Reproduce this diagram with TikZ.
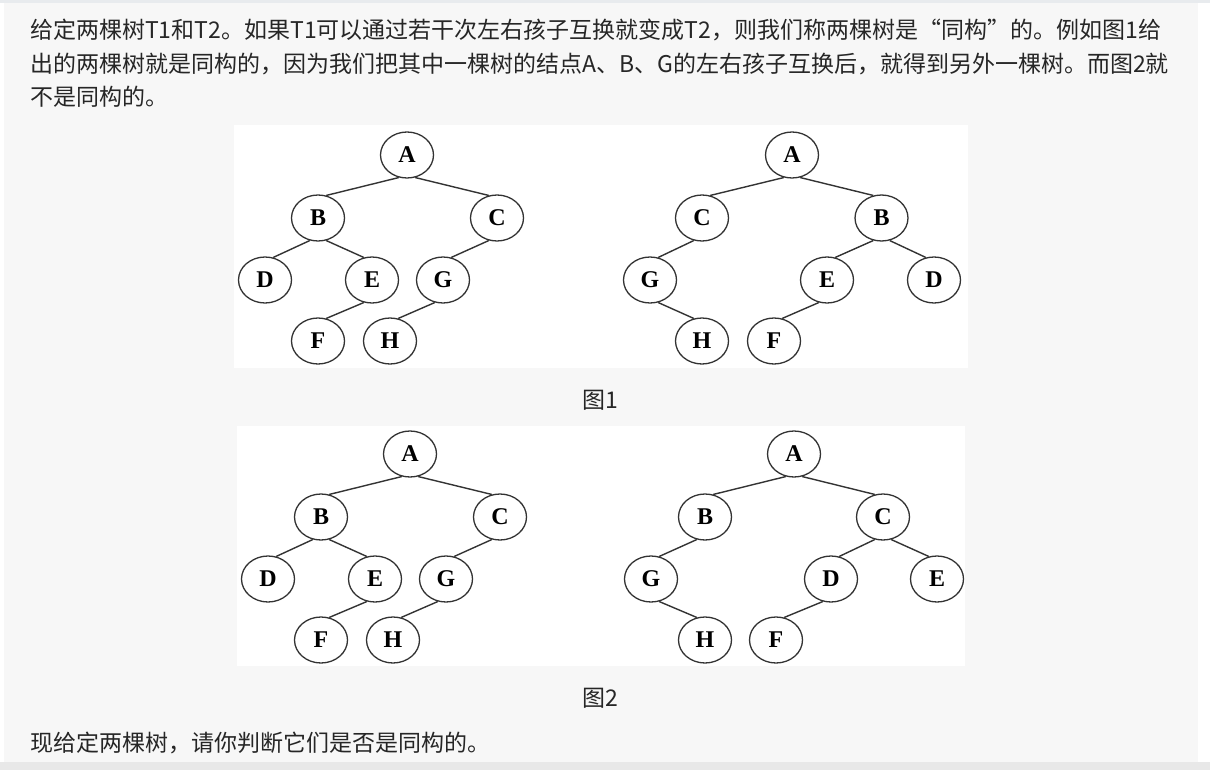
\documentclass[tikz,border=0pt]{standalone}
\usepackage{fontspec}
\setmainfont{Liberation Serif}
\newfontfamily\cjkfont{Noto Sans CJK SC}
\usetikzlibrary{shapes.geometric,positioning}
\definecolor{pagegray}{HTML}{F7F7F7}
\definecolor{topband}{HTML}{E8EBEE}
\definecolor{botband}{HTML}{E8E8E8}
\definecolor{inkgray}{HTML}{333333}

\begin{document}
\begin{tikzpicture}[x=1pt, y=-1pt,
  txt/.style={font=\cjkfont\fontsize{23}{28}\selectfont, text=black!85, inner sep=0pt},
  para/.style={txt, anchor=base west},
  figcap/.style={txt, anchor=base},
  tnode/.style={draw=inkgray, line width=1.3pt, ellipse, minimum width=53pt, minimum height=46pt, inner sep=0pt, font=\bfseries\fontsize{24}{24}\selectfont},
  link/.style={draw=inkgray, line width=1.4pt}]
% page and panels
\path[use as bounding box, fill=white] (0,0) rectangle (1210,770);
\fill[pagegray] (4,3) rectangle (1198,762);
\fill[topband] (0,0) rectangle (1210,3);
\fill[botband] (0,762) rectangle (1210,770);
\fill[white] (234,125) rectangle (968,368);
\fill[white] (237,426) rectangle (965,666);
% text
\node[para] (line1) at (30,39) {给定两棵树T1和T2。如果T1可以通过若干次左右孩子互换就变成T2，则我们称两棵树是“同构”的。例如图1给};
\node[para] (line2) at (30,73) {出的两棵树就是同构的，因为我们把其中一棵树的结点A、B、G的左右孩子互换后，就得到另外一棵树。而图2就};
\node[para] (line3) at (30,106) {不是同构的。};
\node[figcap] (cap1) at (600,408) {图1};
\node[figcap] (cap2) at (600,706) {图2};
\node[para] (ask) at (30,751) {现给定两棵树，请你判断它们是否是同构的。};
% figure 1, left tree
\node[tnode] (A1) at (407,155) {A};
\node[tnode] (B1) at (318,218) {B};
\node[tnode] (C1) at (497,218) {C};
\node[tnode] (D1) at (265,280) {D};
\node[tnode] (E1) at (372,280) {E};
\node[tnode] (G1) at (443,280) {G};
\node[tnode] (F1) at (318,341) {F};
\node[tnode] (H1) at (390,341) {H};
\draw[link] (A1.-110) -- (B1.70); \draw[link] (A1.-70) -- (C1.110);
\draw[link] (B1.-110) -- (D1.70); \draw[link] (B1.-70) -- (E1.110);
\draw[link] (C1.-110) -- (G1.70);
\draw[link] (E1.-110) -- (F1.70); \draw[link] (G1.-110) -- (H1.70);
% figure 1, right tree
\node[tnode] (A2) at (792,155) {A};
\node[tnode] (C2) at (702,218) {C};
\node[tnode] (B2) at (881.5,218) {B};
\node[tnode] (G2) at (650,280) {G};
\node[tnode] (E2) at (827,280) {E};
\node[tnode] (D2) at (934,280) {D};
\node[tnode] (H2) at (702,341) {H};
\node[tnode] (F2) at (774,341) {F};
\draw[link] (A2.-110) -- (C2.70); \draw[link] (A2.-70) -- (B2.110);
\draw[link] (C2.-110) -- (G2.70); \draw[link] (G2.-70) -- (H2.110);
\draw[link] (B2.-110) -- (E2.70); \draw[link] (B2.-70) -- (D2.110);
\draw[link] (E2.-110) -- (F2.70);
% figure 2, left tree
\node[tnode] (A3) at (410,454) {A};
\node[tnode] (B3) at (321,517) {B};
\node[tnode] (C3) at (500,517) {C};
\node[tnode] (D3) at (268,579) {D};
\node[tnode] (E3) at (375,579) {E};
\node[tnode] (G3) at (446,579) {G};
\node[tnode] (F3) at (321,640) {F};
\node[tnode] (H3) at (393,640) {H};
\draw[link] (A3.-110) -- (B3.70); \draw[link] (A3.-70) -- (C3.110);
\draw[link] (B3.-110) -- (D3.70); \draw[link] (B3.-70) -- (E3.110);
\draw[link] (C3.-110) -- (G3.70);
\draw[link] (E3.-110) -- (F3.70); \draw[link] (G3.-110) -- (H3.70);
% figure 2, right tree
\node[tnode] (A4) at (794,454) {A};
\node[tnode] (B4) at (705,517) {B};
\node[tnode] (C4) at (883,517) {C};
\node[tnode] (G4) at (651,579) {G};
\node[tnode] (D4) at (831,579) {D};
\node[tnode] (E4) at (937,579) {E};
\node[tnode] (H4) at (705,640) {H};
\node[tnode] (F4) at (776,640) {F};
\draw[link] (A4.-110) -- (B4.70); \draw[link] (A4.-70) -- (C4.110);
\draw[link] (B4.-110) -- (G4.70); \draw[link] (G4.-70) -- (H4.110);
\draw[link] (C4.-110) -- (D4.70); \draw[link] (C4.-70) -- (E4.110);
\draw[link] (D4.-110) -- (F4.70);
\end{tikzpicture}
\end{document}
